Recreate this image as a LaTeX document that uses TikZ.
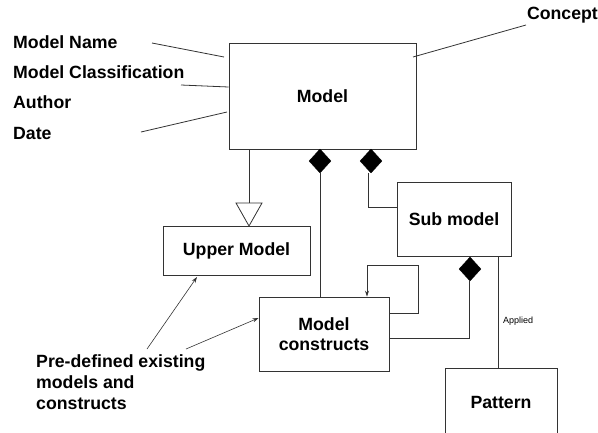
\documentclass[tikz,border=0pt]{standalone}
\usepackage{fontspec}
\setmainfont{Liberation Sans}
\usetikzlibrary{arrows.meta,shapes.geometric}
\begin{document}
\begin{tikzpicture}[x=1pt,y=-1pt,
  bigfont/.style={font=\fontsize{17.7}{20.5}\selectfont\bfseries},
  ln/.style={draw=black!80, line width=0.8pt},
  box/.style={draw=black!80, line width=0.9pt, fill=white, inner sep=0pt, bigfont, align=center},
  lbl/.style={bigfont, inner sep=0pt, anchor=west},
  dia/.style={draw=black, fill=black, shape=diamond, minimum width=22pt, minimum height=24pt, inner sep=0pt},
  tip/.style={-{Stealth[length=6pt,width=4pt]}}
]
\useasboundingbox (0,0) rectangle (598,432);
% boxes
\node[box, minimum width=187pt, minimum height=106pt] (model) at (322.5,96) {Model};
\node[box, minimum width=114pt, minimum height=74pt] (sub) at (454,219) {Sub model};
\node[box, minimum width=147pt, minimum height=49pt] (upper) at (236.5,250.5) {Upper Model};
\node[box, minimum width=130pt, minimum height=74pt] (mc) at (324,334) {Model\\constructs};
% pattern box (cut off at bottom)
\coordinate (pbl) at (445,440);
\coordinate (pbr) at (557,440);
\coordinate (ptl) at (445,368);
\coordinate (ptr) at (557,368);
\draw[ln, line width=0.9pt] (pbl) -- (ptl) -- (ptr) -- (pbr);
\node[bigfont, inner sep=0pt] (pattern) at (501,402) {Pattern};
% diamonds
\node[dia] (d1) at (320,161) {};
\node[dia] (d2) at (371,161) {};
\node[dia] (d3) at (470,269) {};
% composition lines
\draw[ln] (d1.south) -- (d1.south |- mc.north);
\draw[ln] (d2.south) ++(-3,0) coordinate (d2s) -- (d2s |- 0,207) -- (sub.west |- 0,207);
\draw[ln] (d3.south) ++(-1,0) coordinate (d3s) -- (d3s |- 0,338) -- (mc.east |- 0,338);
% self loop
\coordinate (sl1) at (418,313);
\coordinate (sl2) at (418,265);
\coordinate (sl3) at (367,265);
\draw[ln, tip] (mc.east |- sl1) -- (sl1) -- (sl2) -- (sl3) -- (sl3 |- mc.north);
% generalization
\coordinate (gtop) at (249,203);
\draw[ln] (gtop |- model.south) -- (gtop);
\draw[ln, fill=white] (236,203) -- (262,203) -- (249,226) -- cycle;
% applied
\draw[ln] (498,256) -- (ptl -| 498,0);
\node[font=\fontsize{9}{11}\selectfont, inner sep=0pt, anchor=west] (applied) at (503,321) {Applied};
% attribute labels
\node[lbl] (mname) at (13,42) {Model Name};
\node[lbl] (mclass) at (13,72) {Model Classification};
\node[lbl] (author) at (13,102) {Author};
\node[lbl] (date) at (13,133) {Date};
\node[lbl, anchor=east] (concept) at (598,15) {Concept};
\coordinate (a1) at (152,43);
\coordinate (a2) at (181,85);
\coordinate (a3) at (141,132);
\coordinate (a4) at (526,25);
\draw[ln] (a1) -- (224,57);
\draw[ln] (a2) -- (model.west |- 0,87);
\draw[ln] (a3) -- (227,112);
\draw[ln] (a4) -- (413,57);
% predefined
\node[bigfont, inner sep=0pt, align=left, anchor=north west, font=\fontsize{17.7}{21}\selectfont\bfseries] (pre) at (36,354) {Pre-defined existing\\models and\\constructs};
\coordinate (p1) at (147,349);
\coordinate (p2) at (186,349);
\draw[ln, line width=0.6pt, tip] (p1) -- (197,277);
\draw[ln, line width=0.6pt, tip] (p2) -- (mc.west |- 0,318);
\end{tikzpicture}
\end{document}
